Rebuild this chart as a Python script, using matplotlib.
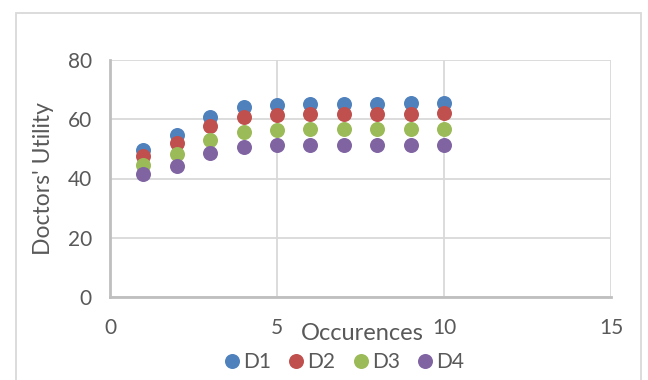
# -*- coding: utf-8 -*-
import numpy as np
import matplotlib
matplotlib.use("Agg")
import matplotlib.pyplot as plt
from matplotlib.patches import Rectangle

# occurences and utility of each doctor
occurences = [1, 2, 3, 4, 5, 6, 7, 8, 9, 10]
d1 = [49.6, 54.7, 60.8, 64.1, 64.9, 65.1, 65.2, 65.3, 65.4, 65.6]
d2 = [47.6, 52.1, 57.7, 60.8, 61.6, 61.7, 61.8, 61.9, 61.9, 62.0]
d3 = [44.6, 48.2, 53.1, 55.8, 56.4, 56.6, 56.6, 56.6, 56.7, 56.7]
d4 = [41.5, 44.2, 48.6, 50.8, 51.2, 51.3, 51.4, 51.2, 51.3, 51.3]
series_names = ["D1", "D2", "D3", "D4"]
colors = ["#4F81BD", "#C0504D", "#9BBB59", "#8064A2"]

plt.rcParams['font.family'] = ['Lato', 'DejaVu Sans']
text_color = "#595959"

fig = plt.figure(figsize=(6.48, 3.80), dpi=100)
ax = fig.add_axes([110 / 648, 1 - 297 / 380, 501 / 648, 237 / 380])

for name, vals, c in zip(series_names, [d1, d2, d3, d4], colors):
    ax.plot(occurences, vals, linestyle="none", marker="o", markersize=10.8,
            color=c, markeredgewidth=0, label=name, clip_on=False)

ax.set_xlim(0, 15)
ax.set_ylim(0, 80)
ax.set_xticks([0, 5, 10, 15])
ax.set_yticks([0, 20, 40, 60, 80])
ax.grid(True, color="#D9D9D9", linewidth=1.3)
ax.set_axisbelow(True)
for side in ["top", "right"]:
    ax.spines[side].set_visible(False)
for side in ["left", "bottom"]:
    ax.spines[side].set_color("#BFBFBF")
    ax.spines[side].set_linewidth(2)
ax.tick_params(length=0, labelsize=15, colors=text_color, pad=13)
ax.tick_params(axis="x", pad=15)

ax.set_ylabel("Doctors' Utility", fontsize=16.5, color=text_color, labelpad=10)
fig.text(362 / 648, 1 - 333 / 380, "Occurences", fontsize=17, color=text_color,
         ha="center", va="center")

ax.legend(loc="center", bbox_to_anchor=(345 / 648, 1 - 362 / 380),
          bbox_transform=fig.transFigure, ncol=4, frameon=False,
          fontsize=15, labelcolor=text_color, handlelength=0.6,
          handletextpad=0.25, columnspacing=0.9, markerscale=1.0)

# outer chart frame
fig.patches.append(Rectangle((16 / 648, -0.1), 625 / 648, 1.1 - 13 / 380,
                             transform=fig.transFigure, fill=False,
                             edgecolor="#D9D9D9", linewidth=1.3))

fig.savefig("out.png", dpi=100)
